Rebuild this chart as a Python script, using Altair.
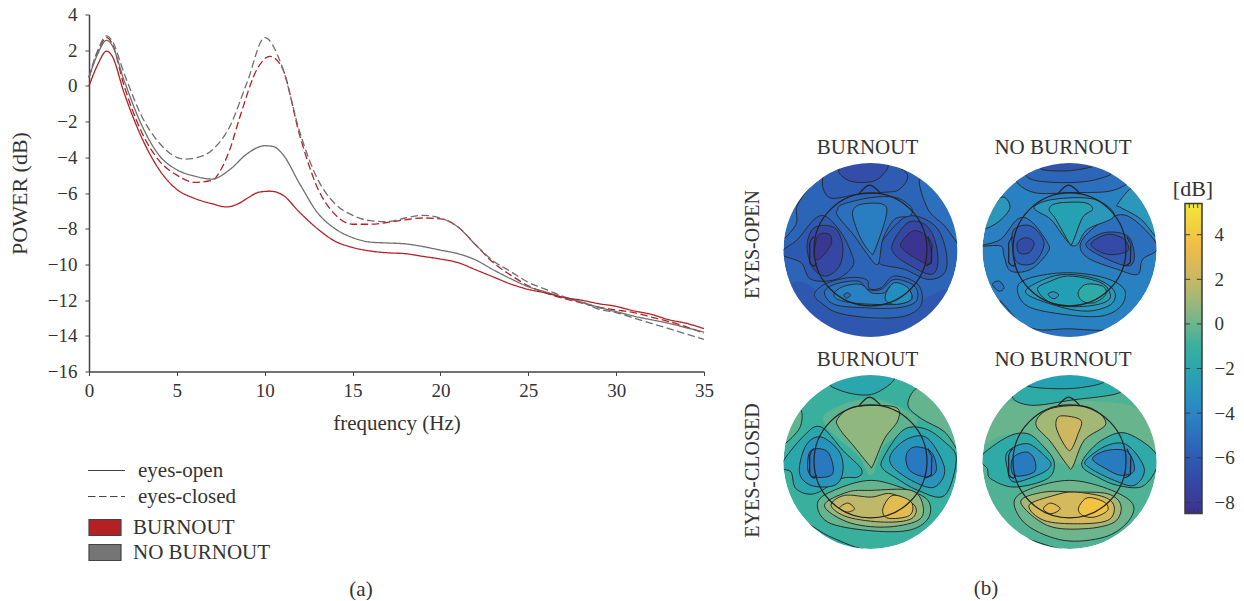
import altair as alt
import pandas as pd

SERIF = "Liberation Serif"
INK = "#333333"

# ---- (a) power spectra -------------------------------------------------
freq_ro = [0, .5, 1, 1.3, 2, 3, 4, 5, 6, 7, 7.8, 8.5, 9, 9.7, 10.3, 11, 12, 13, 14, 15, 16, 17, 18, 19, 20, 21, 22, 23, 24, 25, 26, 27, 28, 29, 30, 31, 32, 33, 34, 35]
burn_open = [0, 1.2, 1.95, 1.7, -0.4, -2.9, -4.7, -5.8, -6.3, -6.6, -6.78, -6.6, -6.3, -5.95, -5.9, -6.1, -7.1, -8, -8.7, -9.05, -9.25, -9.35, -9.4, -9.55, -9.7, -9.9, -10.3, -10.7, -11.1, -11.4, -11.6, -11.85, -12, -12.2, -12.35, -12.6, -12.8, -13.1, -13.3, -13.6]
freq_no = [0, .5, 1, 1.3, 2, 3, 4, 5, 6, 7, 8, 9, 10, 10.5, 11, 12, 13, 14, 15, 16, 17, 18, 19, 20, 21, 22, 23, 24, 25, 26, 27, 28, 29, 30, 31, 32, 33, 34, 35]
no_open = [0.5, 1.8, 2.55, 2.3, 0.3, -2.2, -3.9, -4.7, -5.05, -5.22, -4.7, -3.8, -3.35, -3.4, -3.8, -5.5, -7.1, -8, -8.5, -8.75, -8.8, -8.85, -9, -9.2, -9.4, -9.75, -10.3, -10.8, -11.25, -11.55, -11.85, -12.1, -12.4, -12.65, -12.9, -13.1, -13.3, -13.55, -13.8]
freq_rc = [0, .5, 1, 1.3, 2, 3, 4, 5, 6, 7, 7.5, 8, 8.6, 9.6, 10.3, 11, 12, 13, 14, 15, 16, 17, 18, 19, 20, 21, 22, 23, 24, 25, 26, 27, 28, 29, 30, 31, 32, 33, 34, 35]
burn_closed = [0.46, 1.9, 2.7, 2.4, 0, -2.6, -4.2, -5, -5.4, -5.3, -4.7, -3.6, -1.7, 1.0, 1.65, 1.0, -2.8, -5.7, -7.2, -7.75, -7.75, -7.65, -7.5, -7.4, -7.45, -7.9, -8.9, -9.9, -10.6, -11.2, -11.6, -11.9, -12.15, -12.4, -12.55, -12.7, -12.95, -13.2, -13.5, -13.85]
freq_gc = [0, .5, 1, 1.3, 2, 3, 4, 5, 5.5, 6, 7, 8, 9, 10, 11, 12, 13, 14, 15, 16, 17, 18, 19, 20, 21, 22, 23, 24, 25, 26, 27, 28, 29, 30, 31, 32, 33, 34, 35]
no_closed = [0.5, 2.0, 2.8, 2.55, 0.7, -1.7, -3.2, -4.0, -4.1, -4.05, -3.6, -2.3, 0.2, 2.7, 1.05, -2.6, -5.2, -6.6, -7.25, -7.55, -7.6, -7.4, -7.25, -7.4, -7.9, -8.9, -9.8, -10.4, -11, -11.4, -11.8, -12.1, -12.5, -12.7, -13, -13.3, -13.6, -13.9, -14.2]

GROUPS = ["BURNOUT", "NO BURNOUT"]
STATES = ["eyes-open", "eyes-closed"]
rows = []
for g, s, xs, ys in [(GROUPS[0], STATES[1], freq_rc, burn_closed), (GROUPS[1], STATES[1], freq_gc, no_closed),
                     (GROUPS[1], STATES[0], freq_no, no_open), (GROUPS[0], STATES[0], freq_ro, burn_open)]:
    rows += [{"group": g, "state": s, "f": a, "p": b} for a, b in zip(xs, ys)]
spec = pd.DataFrame(rows)

axis_common = dict(grid=False, labelFont=SERIF, labelFontSize=19, labelColor=INK, titleFont=SERIF,
                   titleColor=INK, titleFontWeight="normal", domainColor="#444444", domainWidth=1.5, tickColor="#444444", tickSize=4,
                   labelFlush=False, labelOverlap=False)
x_scale = alt.Scale(domain=[0, 35], nice=False)
y_scale = alt.Scale(domain=[-16, 4], nice=False)
X_TICKS = [0, 5, 10, 15, 20, 25, 30, 35]
Y_TICKS = [-16, -14, -12, -10, -8, -6, -4, -2, 0, 2, 4]

lines = alt.Chart(spec).mark_line(interpolate="monotone", strokeWidth=1.3).encode(
    x=alt.X("f:Q", scale=x_scale, title="frequency (Hz)",
            axis=alt.Axis(values=X_TICKS, labelPadding=6, titlePadding=12, titleFontSize=21, **axis_common)),
    y=alt.Y("p:Q", scale=y_scale, title="POWER (dB)",
            axis=alt.Axis(values=Y_TICKS, labelPadding=8, titlePadding=16, titleFontSize=22, **axis_common)),
    stroke=alt.Stroke("group:N", scale=alt.Scale(domain=GROUPS, range=["#b52025", "#6f6f6f"]), legend=None),
    strokeDash=alt.StrokeDash("state:N", scale=alt.Scale(domain=STATES, range=[[1, 0], [7.5, 3.5]]),
        legend=alt.Legend(orient="none", legendX=-2, legendY=447, title=None, symbolType="stroke", symbolSize=1369,
                          symbolStrokeColor="#444444", symbolStrokeWidth=1.2, labelFont=SERIF, labelFontSize=21,
                          labelColor=INK, labelOffset=12, rowPadding=5, clipHeight=18)),
)
swatches = alt.Chart(pd.DataFrame({"group": GROUPS})).mark_square(size=0).encode(
    x=alt.value(0), y=alt.value(0),
    fill=alt.Fill("group:N", scale=alt.Scale(domain=GROUPS, range=["#b52025", "#757575"]),
        legend=alt.Legend(orient="none", legendX=-1, legendY=504, title=None, symbolType="M-1,-0.5H1V0.5H-1Z", symbolSize=1024,
                          symbolStrokeColor="#444444", symbolStrokeWidth=1.2, symbolOpacity=1, labelFont=SERIF, labelFontSize=21,
                          labelColor=INK, labelOffset=11, rowPadding=4, clipHeight=18)),
)
def note(text, x, y, angle=0, size=21):
    return alt.Chart(pd.DataFrame({"t": [text]})).mark_text(font=SERIF, fontSize=size, color=INK, angle=angle).encode(
        text="t:N", x=alt.value(x), y=alt.value(y))

left = alt.layer(lines, swatches, note("(a)", 272, 575)).resolve_scale(color="independent").properties(width=615, height=357)

# ---- (b) colour scale --------------------------------------------------
COLOR_VALUES = [-8.5, -8, -7, -6, -5, -4, -3, -2, -1, 0, 1, 2, 3.5, 4.5, 5.4]
COLOR_HEX = ["#3b318d", "#3a3b97", "#334aa6", "#2d5cb2", "#2c70bd", "#2b85c3", "#2a97bb", "#2ba6ad", "#38b09d", "#6db58c",
             "#9db77a", "#c8b765", "#f0bd45", "#f3d23f", "#f1e833"]
fill_scale = alt.Scale(domain=COLOR_VALUES, range=COLOR_HEX)

# Each map: base level, then regions painted in order as (level, has contour, outline)
P1 = (-5.6, [
    (-5.0, 1, [(30, 330), (75, 285), (78, 230), (115, 175), (140, 100), (40, 200)]),
    (-5.0, 1, [(510, 190), (445, 150), (470, 240), (520, 290), (570, 350), (570, 240)]),
    (-6.2, 0, [(120, 610), (60, 480), (100, 460), (200, 530), (330, 570), (520, 480), (530, 540), (400, 640), (280, 640)]),
    (-6.0, 1, [(155, 145), (175, 205), (260, 195), (330, 190), (385, 180), (405, 130), (300, 80), (200, 90)]),
    (-6.8, 1, [(205, 118), (225, 150), (270, 160), (320, 150), (350, 105), (280, 80)]),
    (-6.1, 1, [(30, 372), (80, 330), (130, 270), (165, 262), (210, 310), (240, 370), (245, 410), (195, 450), (120, 450), (90, 400)]),
    (-7.2, 1, [(130, 295), (190, 295), (215, 350), (205, 410), (165, 440), (125, 415), (108, 350)]),
    (-8.2, 1, [(140, 320), (175, 315), (180, 345), (150, 385), (130, 385)]),
    (-6.1, 1, [(345, 320), (400, 265), (450, 265), (500, 300), (525, 370), (520, 430), (470, 450), (400, 420), (330, 405), (310, 380)]),
    (-7.2, 1, [(365, 340), (410, 280), (460, 285), (490, 330), (500, 400), (480, 435), (420, 410), (370, 375)]),
    (-8.3, 1, [(390, 340), (425, 305), (465, 320), (480, 370), (475, 405), (430, 385), (395, 360)]),
    (-5.0, 1, [(200, 240), (215, 225), (300, 205), (375, 205), (420, 235), (415, 260), (370, 270), (335, 330), (320, 405), (285, 370), (250, 320), (200, 260)]),
    (-4.4, 1, [(245, 245), (270, 225), (335, 225), (345, 260), (310, 365), (298, 370), (270, 330), (250, 280)]),
    (-5.6, 1, [(130, 495), (160, 465), (230, 445), (285, 450), (295, 478), (330, 475), (370, 440), (440, 465), (450, 525), (400, 560), (300, 565), (200, 550), (150, 520)]),
    (-4.9, 1, [(160, 490), (190, 465), (260, 455), (290, 480), (330, 480), (370, 450), (430, 470), (435, 515), (380, 535), (280, 535), (190, 525)]),
    (-4.2, 1, [(190, 490), (220, 470), (270, 465), (300, 490), (340, 490), (360, 470), (410, 480), (420, 510), (370, 525), (260, 522), (200, 510)]),
    (-3.5, 1, [(345, 490), (370, 460), (410, 475), (420, 510), (375, 525), (345, 515)]),
    (-5.0, 1, [(218, 497), (230, 490), (238, 498), (226, 506)]),
])
P2 = (-4.2, [
    (-5.0, 1, [(135, 150), (190, 190), (300, 190), (420, 185), (480, 145), (420, 100), (300, 85), (180, 100)]),
    (-5.5, 1, [(165, 135), (200, 155), (300, 160), (380, 150), (420, 125), (300, 85), (200, 100)]),
    (-6.5, 1, [(210, 118), (290, 125), (370, 108), (300, 85)]),
    (-3.0, 1, [(30, 290), (90, 205), (118, 235), (80, 280), (30, 300), (20, 250)]),
    (-3.0, 1, [(440, 225), (490, 175), (550, 230), (565, 330), (510, 270), (450, 235)]),
    (-4.9, 1, [(90, 515), (130, 570), (200, 600), (290, 598), (420, 600), (500, 565), (400, 650), (200, 650)]),
    (-4.8, 1, [(65, 465), (85, 455), (100, 475), (85, 485)]),
    (-5.0, 1, [(30, 350), (90, 330), (140, 270), (180, 275), (230, 340), (230, 370), (180, 420), (120, 425), (100, 380), (90, 350)]),
    (-6.0, 1, [(130, 300), (180, 290), (220, 340), (190, 400), (140, 400), (125, 350)]),
    (-7.0, 1, [(140, 340), (165, 325), (190, 340), (175, 370), (145, 370)]),
    (-5.0, 1, [(330, 340), (390, 280), (470, 260), (560, 350), (515, 390), (500, 435), (440, 420), (350, 385)]),
    (-6.0, 1, [(345, 345), (400, 310), (470, 320), (490, 380), (470, 410), (390, 380)]),
    (-7.0, 1, [(360, 345), (410, 315), (460, 330), (470, 365), (410, 375)]),
    (-3.0, 1, [(190, 235), (250, 210), (370, 210), (430, 260), (350, 300), (320, 345), (298, 345), (270, 310), (240, 270)]),
    (-2.3, 1, [(235, 240), (260, 222), (340, 220), (365, 240), (335, 265), (305, 340), (295, 340), (255, 270)]),
    (-3.5, 1, [(140, 475), (180, 445), (290, 430), (400, 445), (460, 480), (450, 530), (390, 560), (280, 555), (170, 530)]),
    (-3.0, 1, [(165, 490), (220, 450), (290, 435), (380, 450), (430, 485), (420, 525), (350, 545), (260, 530)]),
    (-2.5, 1, [(200, 480), (240, 455), (290, 440), (360, 450), (405, 470), (415, 510), (350, 530), (250, 525)]),
    (-3.1, 1, [(232, 495), (248, 487), (264, 497), (248, 508)]),
    (-1.5, 1, [(322, 490), (345, 465), (395, 470), (405, 495), (370, 520), (335, 515)]),
])
P3 = (-1.0, [
    (-2.0, 1, [(175, 118), (240, 145), (310, 145), (370, 98), (300, 60), (200, 70)]),
    (-0.2, 1, [(435, 130), (410, 180), (450, 220), (520, 260), (565, 320), (570, 220), (500, 120)]),
    (-0.3, 1, [(90, 195), (85, 250), (30, 300), (25, 200)]),
    (-1.8, 1, [(110, 535), (180, 575), (300, 615), (420, 590), (480, 570), (300, 660), (130, 590)]),
    (-0.3, 0, [(170, 200), (300, 160), (430, 210), (420, 250), (340, 300), (300, 390), (260, 330), (170, 250)]),
    (0.7, 1, [(200, 220), (250, 185), (370, 185), (380, 225), (340, 280), (305, 360), (295, 360), (250, 305), (205, 250)]),
    (-2.0, 1, [(30, 360), (100, 270), (150, 245), (215, 315), (270, 370), (260, 395), (210, 400), (130, 445), (75, 430), (60, 380)]),
    (-3.2, 1, [(105, 300), (150, 275), (205, 320), (215, 380), (190, 420), (120, 420), (85, 380)]),
    (-4.6, 1, [(120, 315), (170, 320), (185, 385), (130, 395), (110, 370)]),
    (-2.0, 1, [(335, 340), (395, 255), (460, 250), (520, 290), (555, 340), (520, 450), (440, 435), (370, 395), (335, 370)]),
    (-3.2, 1, [(360, 325), (410, 280), (470, 280), (520, 370), (490, 425), (430, 410), (365, 365)]),
    (-4.6, 1, [(405, 330), (430, 305), (480, 320), (495, 375), (465, 395), (415, 375)]),
    (-0.2, 1, [(140, 470), (200, 430), (300, 405), (400, 430), (470, 465), (470, 520), (410, 555), (290, 555), (170, 530)]),
    (0.8, 1, [(160, 480), (230, 440), (300, 435), (420, 435), (455, 480), (440, 525), (340, 545), (230, 530)]),
    (1.8, 1, [(180, 480), (220, 450), (300, 455), (360, 445), (430, 480), (420, 520), (340, 530), (230, 515)]),
    (2.4, 1, [(205, 488), (230, 473), (250, 490), (228, 500)]),
    (3.0, 1, [(335, 490), (365, 450), (420, 470), (415, 510), (350, 518)]),
])
P4 = (-0.6, [
    (-0.1, 0, [(35, 300), (100, 180), (200, 170), (400, 170), (510, 200), (555, 320), (450, 270), (300, 360), (120, 270)]),
    (-1.5, 1, [(125, 150), (180, 180), (300, 165), (450, 140), (400, 70), (200, 70)]),
    (-2.3, 1, [(170, 122), (300, 130), (400, 108), (300, 70), (200, 80)]),
    (-2.0, 1, [(85, 505), (130, 560), (200, 590), (300, 615), (400, 600), (500, 560), (300, 660), (130, 590)]),
    (1.2, 1, [(195, 235), (240, 190), (350, 185), (405, 235), (340, 285), (305, 365), (290, 360), (240, 290)]),
    (2.2, 1, [(255, 235), (270, 212), (330, 225), (320, 270), (303, 310), (290, 312), (265, 270)]),
    (-1.5, 1, [(30, 335), (110, 275), (170, 265), (215, 300), (250, 350), (230, 400), (130, 425), (60, 400), (50, 370)]),
    (-3.0, 1, [(110, 320), (170, 295), (225, 335), (240, 360), (210, 385), (130, 410), (110, 370)]),
    (-4.5, 1, [(125, 340), (165, 320), (190, 340), (190, 380), (130, 390)]),
    (-1.5, 1, [(345, 330), (400, 280), (470, 265), (560, 335), (520, 420), (440, 420), (380, 395), (335, 365)]),
    (-3.0, 1, [(345, 345), (410, 300), (470, 300), (520, 370), (490, 420), (430, 405), (360, 370)]),
    (-4.5, 1, [(365, 340), (410, 315), (470, 320), (490, 375), (450, 390), (405, 370)]),
    (0.0, 1, [(130, 470), (180, 430), (295, 405), (410, 430), (485, 475), (470, 530), (400, 575), (280, 585), (170, 540)]),
    (1.2, 1, [(150, 470), (220, 440), (310, 440), (410, 445), (450, 480), (430, 530), (340, 550), (230, 540)]),
    (2.5, 1, [(175, 480), (250, 450), (310, 440), (400, 455), (430, 485), (410, 525), (320, 535), (220, 525)]),
    (3.0, 1, [(218, 490), (240, 473), (268, 490), (240, 505)]),
    (3.8, 1, [(323, 488), (350, 457), (400, 470), (410, 495), (370, 515), (335, 510)]),
])
NOSE = [(-33, -168), (-3, -192), (30, -168)]
EAR_L = [(-170, -38), (-182, -18), (-182, 40), (-168, 50), (-162, 40)]
EAR_R = [(172, -38), (184, -18), (182, 40), (164, 50)]
HALF = 262
OFF_HEAD_LIMIT = 278   # outline points lying beyond the head are only there to close a region

def inside(px, py, cx, cy):
    dx, dy = px - cx, py - cy
    r = (dx * dx + dy * dy) ** 0.5
    k = min(1, OFF_HEAD_LIMIT / r) if r else 1
    return cx + dx * k, cy + dy * k

def topo(title, title_dx, spec_, cx, cy, side=None, side_y=87, extra=None):
    base, regions = spec_
    recs = []
    for k, (lvl, contour, pts) in enumerate(regions):
        for i, p in enumerate(pts):
            px, py = inside(p[0], p[1], cx, cy)
            recs.append({"k": k, "i": i, "x": px, "y": py, "v": lvl, "c": contour})
    df = pd.DataFrame(recs)
    xs = alt.Scale(domain=[cx - HALF, cx + HALF], nice=False, zero=False)
    ys = alt.Scale(domain=[cy + HALF, cy - HALF], nice=False, zero=False)
    X = lambda f: alt.X(f, scale=xs, axis=None)
    Y = lambda f: alt.Y(f, scale=ys, axis=None)
    centre = pd.DataFrame({"x": [cx], "y": [cy]})
    disc = alt.Chart(pd.DataFrame({"x": [cx], "y": [cy], "v": [base]})).mark_circle(size=30276, opacity=1).encode(
        x=X("x:Q"), y=Y("y:Q"), fill=alt.Fill("v:Q", scale=fill_scale, legend=None))
    bands = alt.Chart(df).mark_line(interpolate="cardinal-closed", stroke="#2b2b2b", strokeWidth=1.0).encode(
        x=X("x:Q"), y=Y("y:Q"), detail="k:N", order="i:Q",
        fill=alt.Fill("v:Q", scale=fill_scale, legend=None),
        strokeOpacity=alt.StrokeOpacity("c:Q", scale=None))
    ring = alt.Chart(centre).mark_arc(
        radius=87, radius2=97, theta=0, theta2=6.2832, color="white").encode(x=X("x:Q"), y=Y("y:Q"))
    head_rows = []
    for name, shape in [("n", NOSE), ("l", EAR_L), ("r", EAR_R)]:
        head_rows += [{"k": name, "i": i, "x": cx + a, "y": cy - 2 + b} for i, (a, b) in enumerate(shape)]
    head = alt.Chart(pd.DataFrame(head_rows)).mark_line(color="#222222", strokeWidth=1.2, interpolate="monotone").encode(
        x=X("x:Q"), y=Y("y:Q"), detail="k:N", order="i:Q")
    skull = alt.Chart(pd.DataFrame({"x": [cx], "y": [cy - 2]})).mark_point(
        shape="circle", size=12769, filled=False, color="#222222", strokeWidth=1.2, opacity=1).encode(x=X("x:Q"), y=Y("y:Q"))
    parts = [disc, bands, ring, head, skull, note(title, 87.5 + title_dx, -14.5)]
    if side:
        parts.append(note(side, -30, side_y, angle=270, size=20))
    if extra:
        parts.append(extra)
    return alt.layer(*parts).properties(width=175, height=175)

a = topo("BURNOUT", -3, P1, 298, 362, side="EYES-OPEN", side_y=82)
b = topo("NO BURNOUT", -6.5, P2, 296, 362)
c = topo("BURNOUT", -3, P3, 298, 350, side="EYES-CLOSED", side_y=96, extra=note("(b)", 203, 214))
d = topo("NO BURNOUT", -6.5, P4, 296, 350)

def spacer(w, h):
    return alt.Chart(pd.DataFrame({"x": [0]})).mark_point(opacity=0).encode(x=alt.X("x:Q", axis=None)).properties(width=w, height=h)

grid = alt.concat(a, b, c, d, columns=2, bounds="flush", spacing={"row": 37, "column": 24})
maps = alt.vconcat(spacer(175, 112), grid, spacing=10)

# ---- colour bar --------------------------------------------------------
BAR_MIN, BAR_MAX = -8.5, 5.4
BAR_TICKS = [-8, -6, -4, -2, 0, 2, 4]
END_TICK_X = [.25, .5, .75]
by = alt.Scale(domain=[BAR_MIN, BAR_MAX], nice=False)
bx = alt.Scale(domain=[0, 1], nice=False)
stops = [alt.GradientStop(offset=(v - BAR_MIN) / (BAR_MAX - BAR_MIN), color=h) for v, h in zip(COLOR_VALUES, COLOR_HEX)]
bar = alt.Chart(pd.DataFrame({"x": [0], "x2": [1], "y": [BAR_MIN], "y2": [BAR_MAX]})).mark_rect(
    fill=alt.Gradient(gradient="linear", stops=stops, x1=0, x2=0, y1=1, y2=0), stroke="#3a3a3a", strokeWidth=1.5).encode(
    x=alt.X("x:Q", scale=bx, axis=None), x2="x2:Q",
    y=alt.Y("y:Q", scale=by, title=None, axis=alt.Axis(orient="right", values=BAR_TICKS, grid=False, domain=False, ticks=False,
            labelFont=SERIF, labelFontSize=19, labelColor=INK, labelPadding=12)), y2="y2:Q")
tick_rows = [{"a": l, "b": r, "y": t} for t in BAR_TICKS for l, r in [(0, .3), (.7, 1)]]
bar_ticks = alt.Chart(pd.DataFrame(tick_rows)).mark_rule(color="#3a3a3a", strokeWidth=1).encode(
    x=alt.X("a:Q", scale=bx), x2="b:Q", y=alt.Y("y:Q", scale=by))
end_rows = [{"x": t, "y": u, "y2": v} for t in END_TICK_X for u, v in [(BAR_MAX, 5.2), (BAR_MIN, -8.3)]]
end_ticks = alt.Chart(pd.DataFrame(end_rows)).mark_rule(color="#3a3a3a", strokeWidth=1).encode(
    x=alt.X("x:Q", scale=bx), y=alt.Y("y:Q", scale=by), y2="y2:Q")
colorbar = alt.layer(bar, bar_ticks, end_ticks, note("[dB]", 8, -15, size=22)).properties(width=17, height=310)
right = alt.vconcat(spacer(17, 163), colorbar, spacing=0)

chart = alt.hconcat(alt.hconcat(left, maps, spacing=29), right, spacing=5).configure_view(stroke=None).properties(
    padding={"left": 0, "top": -2.5, "right": 0, "bottom": 0})
chart.save("out.html", embed_options={"renderer": "svg", "actions": False})
